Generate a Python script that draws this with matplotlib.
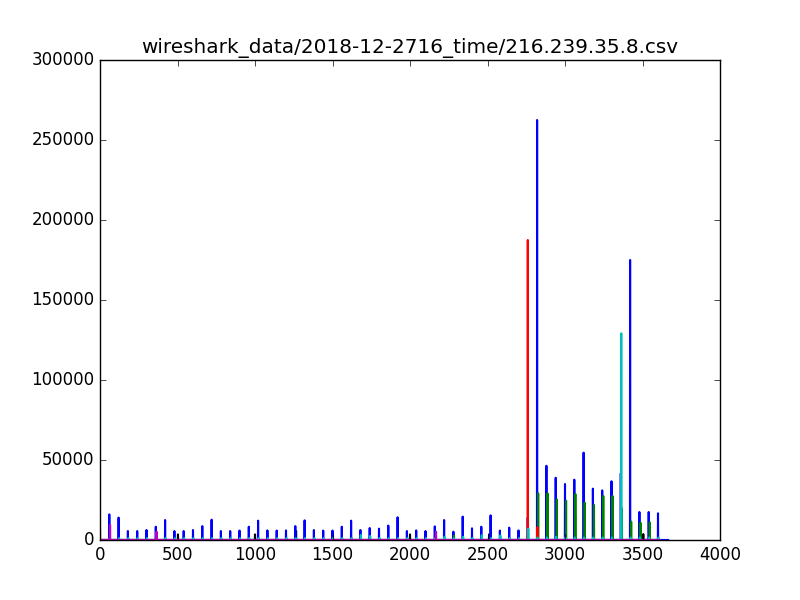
"""Packet counts per second for one host, redrawn from a wireshark capture."""
import numpy as np
import matplotlib
matplotlib.use('Agg')
import matplotlib.pyplot as plt

plt.style.use('classic')

title = 'wireshark_data/2018-12-2716_time/216.239.35.8.csv'

# blue: one burst every minute
blue_t = list(range(60, 3601, 60))
blue_v = [16000, 14000, 5600, 5600, 6250, 8300, 12500, 5600, 5600, 6250,
          8700, 12700, 5600, 5600, 5900, 8300, 12100, 6000, 5900, 6000,
          8700, 12300, 6250, 5900, 5900, 8300, 12100, 6250, 7500, 7100,
          9000, 14200, 5600, 6000, 5600, 8500, 12500, 5200, 14600, 7300,
          8300, 15400, 5900, 7700, 6000, 14000, 262500, 46400, 38900, 35000,
          37700, 54600, 32100, 31000, 36700, 41700, 175000, 17500, 17500, 16700]
blue_end = 3665

green_t = [2284, 2827, 2887, 2947, 3007, 3067, 3127, 3187, 3247, 3307,
           3367, 3427, 3487, 3547]
green_v = [2700, 29200, 29200, 25400, 24600, 28700, 23300, 21900, 27500, 27500,
           19800, 11500, 10800, 11000]

red_t = [1624, 2645, 2760, 2822]
red_v = [1000, 1000, 187500, 8000]

# cyan: small bursts just after each blue one
cyan_t = [t + 3 for t in blue_t]
cyan_v = [1200, 1200, 1200, 1200, 1200, 1200, 1200, 1200, 1200, 1200,
          1200, 1200, 1200, 1200, 1200, 1200, 1200, 1200, 1200, 1200,
          1200, 1200, 1200, 1200, 1200, 1200, 1200, 3100, 2500, 1200,
          1200, 1200, 1200, 1200, 1200, 1200, 2000, 1200, 2000, 1200,
          3000, 1200, 2800, 1200, 1200, 7000, 1500, 1500, 2000, 1500,
          1500, 1500, 1500, 1500, 1500, 129200, 1500, 1500, 1500, 1500]

magenta_t = [0, 65, 365, 2168]
magenta_v = [8300, 9400, 5200, 5200]

black_t = [503, 1000, 1265, 1503, 2000, 2510, 2761, 3065, 3505]
black_v = [3500, 3500, 5600, 3100, 3500, 3500, 14000, 15600, 3700]
other_end = 3610


def per_second(times, values, end):
    """turn (second, count) pairs into a per second count array."""
    y = np.zeros(end + 1)
    for t, v in zip(times, values):
        y[t] = v
    return np.arange(end + 1), y


series = [
    (black_t, black_v, other_end, 'k'),
    (blue_t, blue_v, blue_end, 'b'),
    (green_t, green_v, other_end, 'g'),
    (red_t, red_v, other_end, 'r'),
    (cyan_t, cyan_v, other_end, 'c'),
    (magenta_t, magenta_v, other_end, 'm'),
]

fig = plt.figure(figsize=(8, 6), dpi=100)
ax = fig.add_subplot(111)
for times, values, end, color in series:
    x, y = per_second(times, values, end)
    ax.plot(x, y, color=color, linewidth=1.5)

ax.set_title(title)
ax.set_xlim(0, 4000)
ax.set_ylim(0, 300000)
fig.savefig('out.png', dpi=100, facecolor='white')
